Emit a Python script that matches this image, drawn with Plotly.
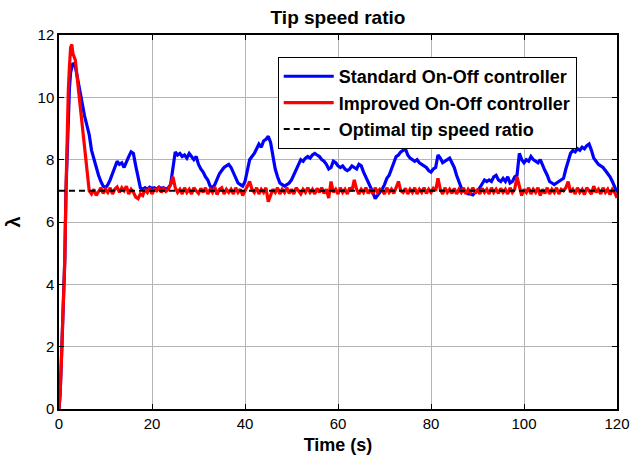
import numpy as np
import plotly.graph_objects as go

# ---- data ----
t_early = [0, 0.25, 0.5, 0.75, 1.0, 1.25, 1.5, 1.75, 2.0, 2.25, 2.5, 2.75, 3.0]
std_early = [0, 0.5, 1.5, 2.6, 3.5, 4.8, 7.0, 8.2, 9.5, 10.3, 10.8, 11.0, 11.1]
imp_early = [0, 0.5, 1.5, 2.6, 3.5, 4.8, 7.0, 9.0, 10.2, 11.0, 11.6, 11.7, 11.4]

t_main = list(np.round(np.arange(3.5, 120.01, 0.5), 2))

std_main = [
    11.0, 10.6, 10.1, 9.8, 9.4, 9.1, 8.8, 8.3, 8.0, 7.7,
    7.5, 7.3, 7.15, 7.1, 7.2, 7.35, 7.55, 7.8, 7.95, 7.85,
    7.9, 7.75, 7.95, 8.1, 8.25, 8.2, 7.8, 7.4, 7.1, 7.05,
    7.1, 7.05, 7.12, 7.08, 7.1, 7.05, 7.12, 7.08, 7.1, 7.05,
    7.1, 7.2, 7.8, 8.25, 8.15, 8.2, 8.1, 8.15, 8.05, 8.2,
    8.1, 8.0, 8.1, 7.85, 7.7, 7.6, 7.45, 7.35, 7.15, 7.1,
    7.2, 7.4, 7.55, 7.65, 7.75, 7.8, 7.85, 7.75, 7.6, 7.4,
    7.25, 7.2, 7.15, 7.3, 7.7, 8.0, 8.1, 8.2, 8.35, 8.5,
    8.4, 8.6, 8.65, 8.75, 8.55, 8.1, 7.7, 7.45, 7.25, 7.2,
    7.15, 7.2, 7.25, 7.35, 7.5, 7.7, 7.85, 8.0, 7.95, 8.05,
    8.1, 8.05, 8.15, 8.2, 8.15, 8.1, 8.0, 7.95, 7.85, 7.7,
    7.75, 7.95, 7.9, 7.8, 7.75, 7.8, 7.7, 7.65, 7.7, 7.8,
    7.75, 7.7, 7.85, 7.8, 7.6, 7.45, 7.3, 7.1, 6.95, 6.75,
    6.85, 6.95, 7.05, 7.2, 7.4, 7.5, 7.7, 7.95, 8.1, 8.15,
    8.25, 8.3, 8.35, 8.15, 8.05, 8.0, 7.95, 8.0, 7.9, 7.85,
    7.8, 7.75, 7.65, 7.6, 7.7, 7.75, 8.15, 8.05, 7.9, 7.95,
    8.0, 8.05, 7.9, 7.75, 7.5, 7.3, 7.1, 7.0, 6.95, 6.9,
    6.9, 6.87, 6.95, 7.0, 7.1, 7.25, 7.35, 7.3, 7.35, 7.3,
    7.45, 7.5, 7.35, 7.3, 7.4, 7.3, 7.45, 7.25, 7.3, 7.45,
    7.5, 8.2, 8.0, 7.9, 8.0, 7.95, 8.1, 8.0, 7.95, 7.9,
    8.0, 7.8, 7.65, 7.5, 7.3, 7.25, 7.2, 7.25, 7.3, 7.35,
    7.4, 7.7, 8.0, 8.2, 8.3, 8.25, 8.35, 8.3, 8.4, 8.35,
    8.45, 8.5, 8.3, 8.05, 7.95, 7.85, 7.8, 7.75, 7.65, 7.55,
    7.45, 7.3, 7.1, 6.95,
]

imp_main = [
    11.2, 10.5, 9.7, 8.9, 8.2, 7.5, 7.0,
    6.9, 7.05, 6.85, 7.0, 7.1, 6.92, 7.05, 6.95, 7.1, 6.9,
    7.05, 7.12, 6.95, 7.1, 7.0, 7.15, 6.9, 7.05, 6.95, 6.8,
    6.75, 6.9, 6.85, 7.05, 6.95, 7.1, 6.9, 7.05, 7.0, 7.1,
    6.95, 7.08, 6.98, 7.05, 7.2, 7.45, 7.1, 6.95, 7.05, 6.9,
    7.1, 6.95, 7.05, 6.9, 7.1, 7.0, 6.92, 7.08, 6.95, 7.1,
    6.9, 7.05, 6.95, 7.12, 6.88, 7.05, 7.1, 6.9, 7.05, 6.95,
    7.05, 6.9, 7.1, 6.95, 7.05, 6.85, 7.0, 7.1, 7.3, 7.05,
    6.95, 7.1, 6.9, 7.05, 6.95, 7.1, 6.65, 6.85, 7.05, 6.95,
    7.1, 6.9, 7.05, 6.95, 7.1, 6.92, 7.05, 6.9, 7.1, 7.0,
    6.9, 7.05, 6.95, 7.1, 6.95, 7.05, 6.9, 7.08, 6.95, 7.1,
    6.92, 7.05, 6.77, 7.3, 6.95, 7.05, 6.9, 7.1, 6.95, 7.05,
    6.9, 7.1, 7.0, 7.35, 7.05, 6.9, 7.05, 6.95, 7.1, 6.92,
    7.05, 6.9, 7.1, 6.95, 7.05, 7.0, 6.9, 7.1, 6.95, 7.05,
    6.92, 7.1, 7.3, 7.0, 6.95, 7.08, 6.9, 7.05, 6.95, 7.1,
    6.9, 7.05, 6.95, 7.1, 6.92, 7.05, 6.95, 7.08, 7.0, 7.4,
    7.05, 6.9, 7.1, 6.95, 7.05, 6.92, 7.08, 6.9, 7.05, 6.95,
    7.1, 6.9, 7.05, 6.95, 7.1, 6.92, 7.05, 6.9, 7.08, 6.95,
    7.05, 6.9, 7.1, 6.95, 7.05, 6.92, 7.08, 6.95, 7.05, 6.9,
    7.1, 6.95, 7.05, 7.45, 7.1, 6.85, 7.05, 6.95, 7.1, 6.9,
    7.05, 6.95, 7.1, 6.85, 7.05, 6.92, 7.1, 6.9, 7.05, 6.95,
    7.1, 6.9, 7.05, 7.0, 7.1, 7.3, 6.95, 7.05, 6.9, 7.1,
    6.95, 7.05, 6.88, 7.1, 7.0, 6.9, 7.15, 6.95, 7.05, 6.9,
    7.1, 6.95, 7.05, 6.88, 7.05, 6.95, 6.77,
]

opt_t = [0, 120]
opt_val = [7, 7]

x_ticks = [0, 20, 40, 60, 80, 100, 120]
y_ticks = [0, 2, 4, 6, 8, 10, 12]

time = t_early + t_main
std = std_early + std_main
imp = imp_early + imp_main

font = "Liberation Sans, Arial, sans-serif"

fig = go.Figure()
fig.add_trace(go.Scatter(x=time, y=std, mode="lines", name="<b>Standard On-Off controller</b>",
                         line=dict(color="#0000FF", width=3.2)))
fig.add_trace(go.Scatter(x=time, y=imp, mode="lines", name="<b>Improved On-Off controller</b>",
                         line=dict(color="#FF0000", width=3.2)))
fig.add_trace(go.Scatter(x=opt_t, y=opt_val, mode="lines", name="<b>Optimal tip speed ratio</b>",
                         line=dict(color="black", width=2, dash="6px,4px")))

axis_common = dict(
    showgrid=True, gridcolor="#b4b4b4", gridwidth=1,
    showline=True, linecolor="black", linewidth=1.5, mirror="ticks",
    ticks="inside", ticklen=5, tickcolor="black",
    tickfont=dict(family=font, size=15, color="black"),
    zeroline=False, automargin=False,
)

fig.update_layout(
    width=643, height=463,
    margin=dict(l=59, r=26, t=35, b=54),
    paper_bgcolor="white", plot_bgcolor="white",
    title=dict(text="<b>Tip speed ratio</b>", x=(59 + 617) / 2 / 643, xanchor="center",
               y=1 - 17 / 463, yanchor="middle",
               font=dict(family=font, size=19, color="black")),
    xaxis=dict(range=[0, 120], tickvals=x_ticks,
               title=dict(text="<b>Time (s)</b>", font=dict(family=font, size=18, color="black"),
                          standoff=8),
               **axis_common),
    yaxis=dict(range=[0, 12], tickvals=y_ticks,
               title=dict(text="<b>λ</b>", font=dict(family=font, size=20, color="black"),
                          standoff=12),
               **axis_common),
    legend=dict(x=0.392, y=0.941, xanchor="left", yanchor="top",
                bgcolor="white", bordercolor="black", borderwidth=1,
                font=dict(family=font, size=18, color="black"),
                tracegroupgap=0, itemwidth=50),
    showlegend=True,
)

fig.write_html("out.html")
